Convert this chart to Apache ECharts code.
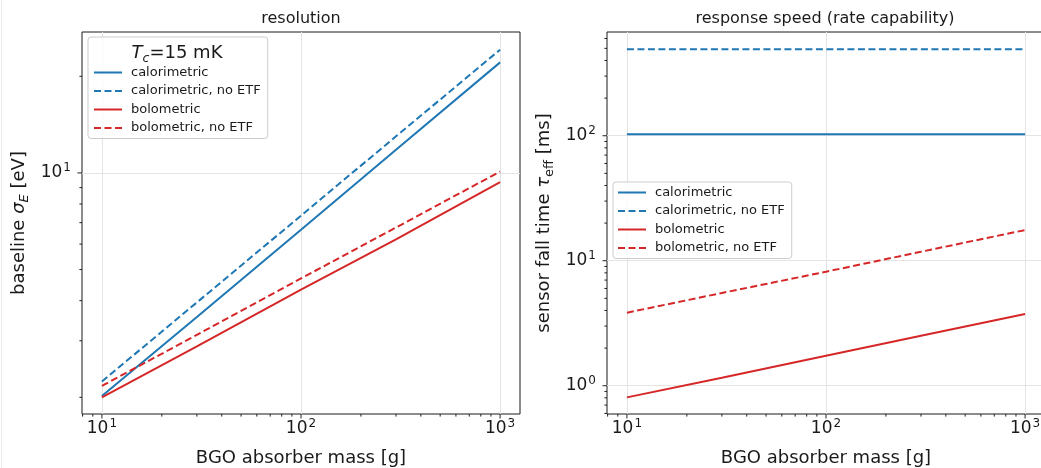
<!DOCTYPE html>
<html>
<head>
<meta charset="utf-8">
<script src="https://cdn.jsdelivr.net/npm/echarts@6/dist/echarts.min.js"></script>
<style>
  html, body { margin: 0; padding: 0; background: #ffffff; }
  #chart { width: 1041px; height: 468px; }
</style>
</head>
<body>
<div id="chart"></div>
<script>
// BGO absorber mass [g]
const masses = [10, 30, 100, 300, 1000];

// resolution: baseline sigma_E [eV]
const resCalorimetric      = [2.02, 3.56, 6.65, 11.8, 22.1];
const resCalorimetricNoEtf = [2.24, 3.95, 7.36, 13.0, 24.2];
const resBolometric        = [2.00, 2.88, 4.33, 6.21, 9.36];
const resBolometricNoEtf   = [2.17, 3.13, 4.69, 6.76, 10.1];

// response speed: sensor fall time tau_eff [ms]
const tauCalorimetric      = [103, 103, 103, 103, 103];
const tauCalorimetricNoEtf = [491, 491, 491, 491, 491];
const tauBolometric        = [0.807, 1.16, 1.74, 2.51, 3.75];
const tauBolometricNoEtf   = [3.84, 5.52, 8.17, 11.8, 17.6];

const seriesNames = ['calorimetric', 'calorimetric, no ETF', 'bolometric', 'bolometric, no ETF'];
const panelTitles = ['resolution', 'response speed (rate capability)'];
const xAxisTitle = 'BGO absorber mass [g]';

// axis extents (log scale)
const massRange = [7.943, 1258.9];
const resRange = [1.774, 27.48];
const tauRange = [0.594, 676];

const FONT = 'DejaVu Sans';
const INK = '#1a1a1a';
const BLUE = '#1f77b4';
const RED = '#d62728';
const DASH = [7, 3.5];

// decade labels as 10 with a raised exponent
function pow10Label(v) {
  const l = Math.log10(v);
  const e = Math.round(l);
  if (Math.abs(l - e) > 1e-6) return '';
  return '{b|10}{e|' + e + '}';
}
const labelRich = {
  b: { fontSize: 17, fontFamily: FONT, color: INK, lineHeight: 22 },
  e: { fontSize: 12, fontFamily: FONT, color: INK, lineHeight: 13, verticalAlign: 'top', padding: [0, 0, 0, 1] }
};

// major ticks at decades, minor ticks at 2..9 x decade, limited to the axis extent
function logTicks(range) {
  const out = [];
  const lo = Math.floor(Math.log10(range[0])), hi = Math.ceil(Math.log10(range[1]));
  for (let d = lo; d <= hi; d++) {
    for (let k = 1; k <= 9; k++) {
      const v = k * Math.pow(10, d);
      if (v >= range[0] && v <= range[1]) out.push([v, k === 1 ? 1 : 0]);
    }
  }
  return out;
}

function lineSeries(name, values, color, dashed, idx) {
  return {
    type: 'line', name: name,
    xAxisIndex: idx, yAxisIndex: idx,
    data: masses.map((m, i) => [m, values[i]]),
    symbol: 'none', showSymbol: false,
    color: color,
    itemStyle: { color: color },
    lineStyle: { color: color, width: 2, type: dashed ? DASH : 'solid' },
    animation: false, z: 3
  };
}

function tickSeries(idx, dim, range, anchor) {
  const data = logTicks(range).map(t => dim === 'x' ? [t[0], anchor, t[1]] : [anchor, t[0], t[1]]);
  return {
    type: 'custom', xAxisIndex: idx, yAxisIndex: idx,
    clip: false, silent: true, animation: false, z: 10,
    data: data,
    renderItem: function (params, api) {
      const p = api.coord([api.value(0), api.value(1)]);
      const len = api.value(2) ? 4.5 : 2.6;
      const shape = dim === 'x'
        ? { x1: p[0], y1: p[1], x2: p[0], y2: p[1] + len }
        : { x1: p[0] - len, y1: p[1], x2: p[0], y2: p[1] };
      return { type: 'line', shape: shape, style: { stroke: '#222', lineWidth: 1 } };
    }
  };
}

function xAxisFor(idx) {
  return {
    type: 'log', logBase: 10, gridIndex: idx,
    min: massRange[0], max: massRange[1],
    name: xAxisTitle, nameLocation: 'middle', nameGap: 35,
    nameTextStyle: { fontSize: 18, fontFamily: FONT, color: INK },
    axisLine: { show: false }, axisTick: { show: false },
    minorTick: { show: false },
    axisLabel: { fontSize: 17, fontFamily: FONT, color: INK, margin: 4,
                 formatter: pow10Label, rich: labelRich, showMinLabel: false, showMaxLabel: false },
    splitLine: { show: true, showMinLine: false, showMaxLine: false,
                 lineStyle: { color: '#e4e4e4', width: 1 } }
  };
}

function yAxisFor(idx, range, name, rich, gap) {
  return {
    type: 'log', logBase: 10, gridIndex: idx,
    min: range[0], max: range[1],
    name: name, nameLocation: 'middle', nameGap: gap, nameRotate: 90,
    nameTextStyle: { fontSize: 18, fontFamily: FONT, color: INK, lineHeight: 24, rich: rich },
    axisLine: { show: false }, axisTick: { show: false },
    minorTick: { show: false },
    axisLabel: { fontSize: 17, fontFamily: FONT, color: INK, margin: 11,
                 formatter: pow10Label, rich: labelRich, showMinLabel: false, showMaxLabel: false },
    splitLine: { show: true, showMinLine: false, showMaxLine: false,
                 lineStyle: { color: '#e4e4e4', width: 1 } }
  };
}

const legendCommon = {
  orient: 'vertical',
  itemWidth: 28, itemHeight: 14, itemGap: 5.5,
  backgroundColor: 'rgba(255,255,255,0.8)',
  borderColor: '#cccccc', borderWidth: 1, borderRadius: 3,
  itemStyle: { opacity: 0 },
  textStyle: { fontSize: 13, fontFamily: FONT, color: INK, padding: [0, 0, 0, 4] },
  data: seriesNames,
  selectedMode: false
};

const gridCommon = {
  top: 32, width: 438, height: 382,
  show: true, borderColor: '#1a1a1a', borderWidth: 1,
  containLabel: false, outerBoundsMode: 'none'
};

const chart = echarts.init(document.getElementById('chart'), null, { renderer: 'canvas' });

chart.setOption({
  backgroundColor: '#ffffff',
  animation: false,
  grid: [
    Object.assign({}, gridCommon, { left: 82 }),
    Object.assign({}, gridCommon, { left: 607 })
  ],
  xAxis: [xAxisFor(0), xAxisFor(1)],
  yAxis: [
    yAxisFor(0, resRange, 'baseline {i|\u03c3}{s|E} [eV]', {
      i: { fontSize: 18, fontStyle: 'italic', fontFamily: FONT, color: INK, lineHeight: 24 },
      s: { fontSize: 13, fontStyle: 'italic', fontFamily: FONT, color: INK, lineHeight: 14, verticalAlign: 'bottom' }
    }, 51),
    yAxisFor(1, tauRange, 'sensor fall time {i|\u03c4}{s|eff} [ms]', {
      i: { fontSize: 18, fontStyle: 'italic', fontFamily: FONT, color: INK, lineHeight: 24 },
      s: { fontSize: 13, fontFamily: FONT, color: INK, lineHeight: 14, verticalAlign: 'bottom' }
    }, 51)
  ],
  legend: [
    Object.assign({}, legendCommon, { left: 88, top: 37, padding: [29, 7, 4, 5] }),
    Object.assign({}, legendCommon, { left: 613, top: 182, padding: [4, 7, 4, 4] })
  ],
  graphic: [
    { type: 'line', z: 0, silent: true, shape: { x1: 1.5, y1: 0, x2: 1.5, y2: 468 },
      style: { stroke: '#e8ecf0', lineWidth: 1 } },
    { type: 'text', z: 100, silent: true, x: 301, y: 19,
      style: { text: panelTitles[0], fontSize: 16, fontFamily: FONT, fill: INK, align: 'center', verticalAlign: 'middle' } },
    { type: 'text', z: 100, silent: true, x: 825, y: 19,
      style: { text: panelTitles[1], fontSize: 16, fontFamily: FONT, fill: INK, align: 'center', verticalAlign: 'middle' } },
    { type: 'text', z: 100, silent: true, x: 177, y: 53,
      style: {
        text: '{it|T}{s|c}=15 mK', fontSize: 18, fontFamily: FONT, fill: INK,
        align: 'center', verticalAlign: 'middle', lineHeight: 24,
        rich: {
          it: { fontSize: 18, fontStyle: 'italic', fontFamily: FONT, fill: INK, lineHeight: 24 },
          s: { fontSize: 12.5, fontStyle: 'italic', fontFamily: FONT, fill: INK, lineHeight: 13, verticalAlign: 'bottom' }
        }
      } }
  ],
  series: [
    lineSeries(seriesNames[0], resCalorimetric, BLUE, false, 0),
    lineSeries(seriesNames[1], resCalorimetricNoEtf, BLUE, true, 0),
    lineSeries(seriesNames[2], resBolometric, RED, false, 0),
    lineSeries(seriesNames[3], resBolometricNoEtf, RED, true, 0),
    lineSeries(seriesNames[0], tauCalorimetric, BLUE, false, 1),
    lineSeries(seriesNames[1], tauCalorimetricNoEtf, BLUE, true, 1),
    lineSeries(seriesNames[2], tauBolometric, RED, false, 1),
    lineSeries(seriesNames[3], tauBolometricNoEtf, RED, true, 1),
    tickSeries(0, 'x', massRange, resRange[0]),
    tickSeries(0, 'y', resRange, massRange[0]),
    tickSeries(1, 'x', massRange, tauRange[0]),
    tickSeries(1, 'y', tauRange, massRange[0])
  ]
});
</script>
</body>
</html>
